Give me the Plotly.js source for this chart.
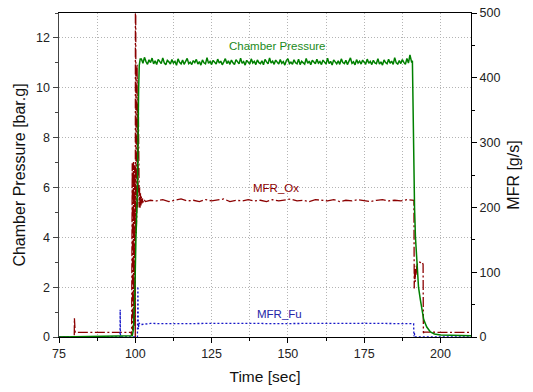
<!DOCTYPE html>
<html>
<head>
<meta charset="utf-8">
<script src="https://cdn.plot.ly/plotly-3.0.1.min.js"></script>
<style>html,body{margin:0;padding:0;background:#fff;}#chart{width:533px;height:392px;}</style>
</head>
<body>
<div id="chart"></div>
<script>
// Chamber pressure [bar.g] (left axis)
const pcTime = [75, 99.0, 99.4, 99.8, 100.2, 100.7, 101.1, 101.3, 101.6,
  102, 102.5, 103, 103.5, 104, 104.5, 105, 105.5, 106, 106.5,
  107, 107.5, 108, 108.5, 109, 109.5, 110, 110.5, 111, 111.5,
  112, 112.5, 113, 113.5, 114, 114.5, 115, 115.5, 116, 116.5,
  117, 117.5, 118, 118.5, 119, 119.5, 120, 120.5, 121, 121.5,
  122, 122.5, 123, 123.5, 124, 124.5, 125, 125.5, 126, 126.5,
  127, 127.5, 128, 128.5, 129, 129.5, 130, 130.5, 131, 131.5,
  132, 132.5, 133, 133.5, 134, 134.5, 135, 135.5, 136, 136.5,
  137, 137.5, 138, 138.5, 139, 139.5, 140, 140.5, 141, 141.5,
  142, 142.5, 143, 143.5, 144, 144.5, 145, 145.5, 146, 146.5,
  147, 147.5, 148, 148.5, 149, 149.5, 150, 150.5, 151, 151.5,
  152, 152.5, 153, 153.5, 154, 154.5, 155, 155.5, 156, 156.5,
  157, 157.5, 158, 158.5, 159, 159.5, 160, 160.5, 161, 161.5,
  162, 162.5, 163, 163.5, 164, 164.5, 165, 165.5, 166, 166.5,
  167, 167.5, 168, 168.5, 169, 169.5, 170, 170.5, 171, 171.5,
  172, 172.5, 173, 173.5, 174, 174.5, 175, 175.5, 176, 176.5,
  177, 177.5, 178, 178.5, 179, 179.5, 180, 180.5, 181, 181.5,
  182, 182.5, 183, 183.5, 184, 184.5, 185, 185.5, 186, 186.5,
  187, 187.5, 188, 188.5, 189, 189.5, 190, 190.5, 190.8,
  191.0, 191.2, 191.5, 191.8, 192.3, 192.8, 193.4, 194.0, 194.5, 195.5, 196.7, 198, 200, 210];
const pcValue = [0, 0.05, 0.3, 1.5, 3.9, 6.0, 10.0, 10.9, 11.15,
  11.15, 10.98, 11.22, 11.05, 10.94, 11.12, 11.01, 11.19, 10.96, 11.08,
  10.93, 11.14, 11.03, 10.97, 11.2, 11.0, 10.92, 11.1, 11.04, 10.95,
  11.13, 10.99, 11.06, 10.9, 11.16, 11.02, 10.96, 11.11, 10.94, 11.07,
  11.18, 10.97, 11.03, 10.93, 11.09, 11.01, 11.14, 10.95, 11.05, 10.91,
  11.12, 11.0, 10.96, 11.21, 10.98, 11.06, 10.93, 11.1, 11.02, 10.95,
  11.15, 10.99, 11.07, 10.92, 11.04, 11.17, 10.97, 11.08, 10.94, 11.11,
  11.0, 10.93, 11.13, 11.03, 10.96, 11.19, 10.98, 11.05, 10.91, 11.1,
  11.02, 10.95, 11.16, 10.99, 11.06, 10.93, 11.12, 11.01, 10.97, 11.08,
  10.92, 11.14, 11.04, 10.96, 11.2, 10.99, 11.07, 10.94, 11.11, 11.0,
  10.95, 11.13, 10.98, 11.05, 10.91, 11.09, 11.17, 10.97, 11.03, 10.94,
  11.12, 11.0, 10.96, 11.15, 10.93, 11.06, 11.01, 10.95, 11.18, 10.98,
  11.07, 10.92, 11.1, 11.02, 10.96, 11.14, 10.99, 11.05, 10.93, 11.11,
  11.0, 10.95, 11.19, 10.97, 11.06, 10.91, 11.12, 11.03, 10.96, 11.08,
  10.94, 11.16, 11.01, 10.97, 11.1, 10.93, 11.05, 11.2, 10.98, 11.04,
  10.92, 11.13, 10.99, 11.07, 10.95, 11.11, 11.02, 10.96, 11.15, 10.98,
  11.06, 10.93, 11.1, 11.0, 10.97, 11.17, 10.95, 11.04, 10.91, 11.12,
  11.01, 10.96, 11.14, 10.98, 11.07, 10.94, 11.21, 11.0, 10.95, 11.09,
  10.97, 11.13, 11.02, 10.94, 11.18, 10.99, 11.32, 11.05, 11.08,
  9.0, 7.0, 5.2, 4.0, 2.8, 2.0, 1.5, 1.0, 0.7, 0.4, 0.2, 0.12, 0.08, 0.05];

// Oxidizer mass flow rate [g/s] (right axis)
const oxTime = [75, 80, 80.05, 80.3, 98.6, 98.8, 99.0, 99.1, 99.2, 99.3, 99.4, 99.5, 99.6, 99.7, 99.8, 99.9,
  100.0, 100.05, 100.3, 100.4, 100.5, 100.6, 100.7, 100.8, 100.9, 101.0, 101.1, 101.2, 101.3, 101.4,
  101.55, 101.7, 101.85, 102.0, 102.2, 102.4, 102.6, 102.9, 103.3,
  105, 107, 109, 111, 113, 115, 117, 119, 121, 123, 125, 127, 129, 131, 133, 135, 137, 139, 141, 143, 145,
  147, 149, 151, 153, 155, 157, 159, 161, 163, 165, 167, 169, 171, 173, 175, 177, 179, 181, 183, 185, 187, 189, 191.3,
  191.4, 191.55, 191.7, 191.85, 192.0, 192.2, 192.5, 193.0, 193.5, 194.0, 194.3, 194.4, 194.7, 200, 210];
const oxValue = [0, 0, 29, 7, 7, 2, 268, 10, 262, 25, 270, 15, 255, 40, 265, 5,
  0, 700, 160, 425, 190, 420, 200, 400, 220, 360, 205, 300, 200, 230,
  198, 222, 203, 217, 206, 214, 208, 212, 209,
  211, 210, 212, 209, 211, 213, 210, 211, 209, 212, 210, 211, 213, 209, 211, 210, 212, 210, 211, 209, 212,
  210, 211, 213, 210, 211, 209, 212, 211, 210, 212, 209, 211, 210, 212, 211, 209, 211, 212, 210, 211, 210, 212, 211,
  75, 110, 85, 105, 95, 108, 114, 116, 115, 116, 112, 6, 8, 7, 7];

// Fuel mass flow rate [g/s] (right axis)
const fuTime = [75, 95.0, 95.05, 95.15, 100.7, 100.85, 101.0, 101.2, 101.5,
  105, 110, 115, 120, 125, 130, 135, 140, 145, 150, 155, 160, 165, 170, 175, 180, 185, 190, 191.2,
  191.3, 191.45, 191.6, 210];
const fuValue = [0, 0, 42, 0, 0, 78, 12, 22, 19,
  21, 20.5, 21.2, 20.8, 21, 21.3, 20.7, 21, 20.6, 21.2, 20.9, 21.1, 20.7, 21, 21.2, 20.8, 21, 20.6, 20.5,
  1, 6, 0, 0];

const seriesNames = ['Chamber Pressure', 'MFR_Ox', 'MFR_Fu'];
const xTitle = 'Time [sec]';
const yLeftTitle = 'Chamber Pressure [bar.g]';
const yRightTitle = 'MFR [g/s]';

const FONT = 'Liberation Sans, Arial, sans-serif';
const cGreen = '#008000', cRed = '#8b0000', cBlue = '#1515c8';

const traces = [
  {x: oxTime, y: oxValue, name: seriesNames[1], yaxis: 'y', mode: 'lines',
   line: {color: cRed, width: 1.3, dash: '10px,2.5px,2px,2.5px'}},
  {x: fuTime, y: fuValue, name: seriesNames[2], yaxis: 'y', mode: 'lines',
   line: {color: cBlue, width: 1.3, dash: '2px,2px'}},
  {x: pcTime, y: pcValue, name: seriesNames[0], yaxis: 'y2', mode: 'lines',
   line: {color: cGreen, width: 1.5}}
];

const gridStyle = {gridcolor: '#b4b4b4', griddash: '1px,2px', gridwidth: 1};

const layout = {
  width: 533, height: 392,
  margin: {l: 59, r: 62, t: 13, b: 55, pad: 0},
  paper_bgcolor: '#fff', plot_bgcolor: '#fff',
  showlegend: false,
  font: {family: FONT, color: '#222', size: 12.5},
  xaxis: Object.assign({
    range: [75, 210], tick0: 75, dtick: 25, ticks: 'outside', ticklen: 5, tickwidth: 1, tickcolor: '#000',
    showline: true, linecolor: '#000', linewidth: 1, mirror: true, zeroline: false, showgrid: true,
    tickfont: {family: FONT, size: 12.5, color: '#222'},
    minor: Object.assign({dtick: 12.5, tick0: 75, ticks: 'outside', ticklen: 3, tickcolor: '#000', showgrid: true}, gridStyle),
    title: {text: xTitle, font: {family: FONT, size: 15.5, color: '#111'}, standoff: 11}
  }, gridStyle),
  yaxis: {
    range: [0, 500], dtick: 100, side: 'right', ticks: 'outside', ticklen: 5, tickwidth: 1, tickcolor: '#000',
    showline: true, linecolor: '#000', linewidth: 1, zeroline: false, showgrid: false,
    tickfont: {family: FONT, size: 12.5, color: '#222'},
    minor: {dtick: 50, ticks: 'outside', ticklen: 3, tickcolor: '#000', showgrid: false},
    title: {text: yRightTitle, font: {family: FONT, size: 16, color: '#111'}, standoff: 8}
  },
  yaxis2: Object.assign({
    range: [0, 13], dtick: 2, side: 'left', overlaying: 'y', ticks: 'outside', ticklen: 5, tickwidth: 1, tickcolor: '#444',
    showline: true, linecolor: '#444', linewidth: 1.5, zeroline: false, showgrid: true,
    tickfont: {family: FONT, size: 12.5, color: '#222'},
    minor: Object.assign({dtick: 1, ticks: 'outside', ticklen: 3, tickcolor: '#444', showgrid: false}, gridStyle),
    title: {text: yLeftTitle, font: {family: FONT, size: 16, color: '#111'}, standoff: 6}
  }, gridStyle),
  annotations: [
    {x: 146.7, y: 11.69, xref: 'x', yref: 'y2', text: seriesNames[0], showarrow: false,
     font: {family: FONT, size: 11.5, color: '#1a8a1a'}},
    {x: 146.1, y: 5.98, xref: 'x', yref: 'y2', text: seriesNames[1], showarrow: false,
     font: {family: FONT, size: 11.5, color: cRed}},
    {x: 147.4, y: 0.92, xref: 'x', yref: 'y2', text: seriesNames[2], showarrow: false,
     font: {family: FONT, size: 11.5, color: '#2525a8'}}
  ]
};

Plotly.newPlot('chart', traces, layout, {staticPlot: true, displayModeBar: false});
</script>
</body>
</html>
